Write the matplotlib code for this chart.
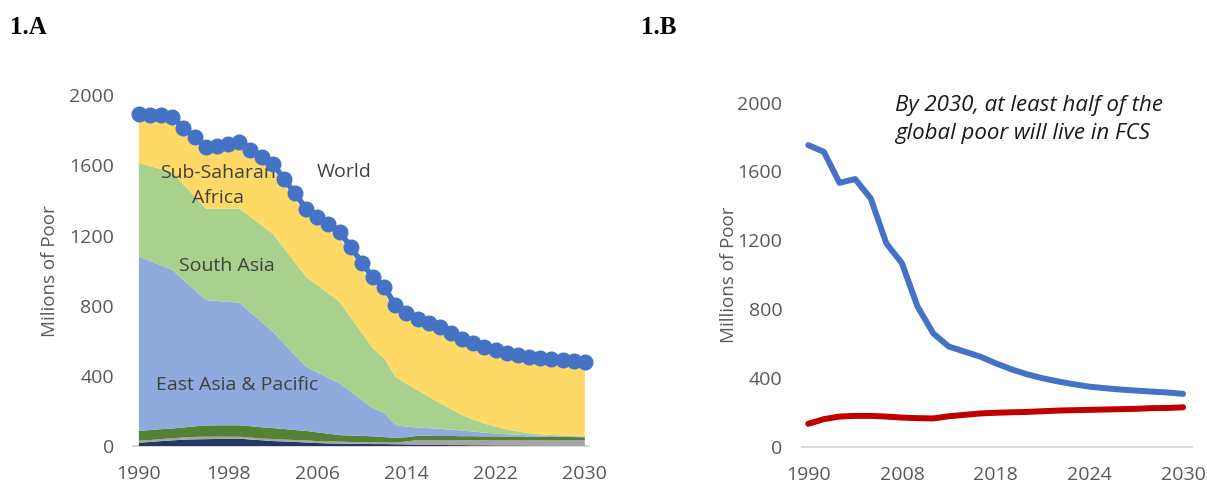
import matplotlib
matplotlib.use("Agg")
import matplotlib.pyplot as plt
import numpy as np

# ---------------- Panel 1.A data (millions of poor) ----------------
years_a = list(range(1990, 2031))
navy = [19, 23, 28, 32, 36, 38, 39, 40, 41, 42, 37, 33, 28, 26, 23, 20, 17, 15, 14, 13,
        12, 11, 11, 10, 9, 8, 7, 6, 5, 5, 4, 4, 3, 3, 3, 2, 2, 2, 2, 2, 2]
gray = [11, 11, 12, 12, 13, 14, 14, 13, 12, 11, 11, 10, 12, 11, 11, 12, 11, 11, 11, 10,
        10, 10, 9, 9, 17, 26, 27, 28, 29, 29, 30, 30, 31, 31, 31, 32, 32, 32, 32, 32, 32]
dark_green = [57, 57, 56, 56, 57, 60, 64, 65, 65, 65, 65, 64, 62, 60, 57, 54, 50, 44, 37, 37,
              36, 34, 31, 28, 24, 24, 24, 23, 23, 22, 22, 21, 21, 20, 20, 19, 19, 18, 18, 17, 16]
east_asia = [992, 964, 934, 905, 841, 778, 715, 709, 704, 699, 649, 600, 550, 488, 427, 366,
             342, 318, 295, 250, 204, 160, 139, 73, 60, 47, 44, 41, 36, 32, 26, 21, 16, 13,
             10, 8, 6, 5, 4, 4, 4]
south_asia = [535, 541, 548, 555, 544, 533, 522, 527, 532, 537, 545, 552, 560, 545, 529, 513,
              497, 482, 465, 423, 383, 341, 310, 275, 245, 213, 179, 147, 117, 89, 68, 52,
              39, 28, 19, 12, 8, 6, 4, 3, 3]
ssa = [246, 259, 273, 282, 290, 305, 317, 320, 332, 345, 345, 355, 364, 360, 358, 354, 355,
       360, 364, 368, 365, 370, 373, 373, 366, 374, 387, 400, 401, 401, 400, 403, 402, 402,
       401, 401, 398, 396, 395, 391, 385]
world = [1895, 1890, 1886, 1877, 1816, 1763, 1706, 1709, 1721, 1734, 1687, 1649, 1611, 1525,
         1440, 1354, 1307, 1265, 1221, 1136, 1045, 961, 908, 803, 756, 727, 703, 680, 646,
         613, 585, 566, 547, 532, 519, 509, 500, 494, 490, 484, 477]
ticks_a = [1990, 1998, 2006, 2014, 2022, 2030]

# ---------------- Panel 1.B data ----------------
cats_b = [1990, 1993, 1996, 1999, 2002, 2005, 2008, 2010, 2011, 2012, 2013, 2015, 2018,
          2019, 2020, 2021, 2022, 2023, 2024, 2025, 2026, 2027, 2028, 2029, 2030]
blue_b = [1752, 1713, 1533, 1555, 1442, 1181, 1065, 813, 658, 581, 552, 523, 484, 449, 420,
          397, 378, 362, 348, 339, 331, 325, 319, 314, 306]
red_b = [132, 159, 174, 178, 178, 174, 168, 165, 163, 176, 184, 192, 196, 199, 201, 205,
         209, 211, 213, 215, 217, 219, 223, 224, 228]
label_years_b = [1990, 2008, 2018, 2024, 2030]
yticks = [0, 400, 800, 1200, 1600, 2000]

FONT = ["Open Sans", "DejaVu Sans"]
plt.rcParams["font.family"] = FONT
TXT = "#595959"

fig = plt.figure(figsize=(12.07, 4.84), dpi=100)

def style_axis(ax):
    for s in ["top", "right", "left"]:
        ax.spines[s].set_visible(False)
    ax.spines["bottom"].set_color("#D9D9D9")
    ax.spines["bottom"].set_linewidth(1.5)
    ax.spines["bottom"].set_zorder(0.5)
    ax.tick_params(axis="both", length=0, labelsize=14, labelcolor=TXT)
    ax.tick_params(axis="y", pad=14)
    ax.tick_params(axis="x", pad=14)
    ax.set_ylim(0, 2000)
    ax.set_yticks(yticks)

# ---------------- Panel A ----------------
axA = fig.add_axes([133.3 / 1207, 1 - 446 / 484, 456 / 1207, 350.7 / 484])
colors = ["#203864", "#A5A5A5", "#548235", "#8FAADC", "#A9D18E", "#FFD966"]
axA.stackplot(years_a, navy, gray, dark_green, east_asia, south_asia, ssa,
              colors=colors, linewidth=0)
axA.plot(years_a, world, color="#4472C4", lw=4, marker="o", ms=10.5,
         clip_on=False, zorder=5)
axA.set_xlim(1989.5, 2030.4)
axA.set_xticks(ticks_a)
style_axis(axA)
axA.set_ylabel("Milions of Poor", fontsize=13.5, color=TXT)
axA.yaxis.set_label_coords(-0.163, 0.5)

lab_c = "#404040"
axA.text(1997.1, 1485, "Sub-Saharan\nAfrica", ha="center", va="center", fontsize=14,
         color=lab_c, linespacing=1.45)
axA.text(2008.4, 1562, "World", ha="center", va="center", fontsize=14, color=lab_c)
axA.text(1997.9, 1026, "South Asia", ha="center", va="center", fontsize=14, color=lab_c)
axA.text(1998.8, 348, "East Asia & Pacific", ha="center", va="center", fontsize=14,
         color=lab_c)

# ---------------- Panel B ----------------
axB = fig.add_axes([801.7 / 1207, 1 - 446.5 / 484, 390 / 1207, 344 / 484])
xb = np.arange(len(cats_b))
axB.plot(xb, blue_b, color="#4472C4", lw=4.3, solid_capstyle="round",
         solid_joinstyle="round")
axB.plot(xb, red_b, color="#C00000", lw=4.3, solid_capstyle="round",
         solid_joinstyle="round")
axB.set_xlim(-0.42, 24.55)
tick_idx = [cats_b.index(y) for y in label_years_b]
axB.set_xticks(tick_idx)
axB.set_xticklabels([str(y) for y in label_years_b])
style_axis(axB)
axB.set_ylabel("Millions of Poor", fontsize=13.5, color=TXT)
axB.yaxis.set_label_coords(-0.163, 0.5)
axB.text(5.55, 1901, "By 2030, at least half of the\nglobal poor will live in FCS",
         ha="left", va="center", fontsize=16, style="italic", color="#1A1A1A",
         linespacing=1.45)

# ---------------- Panel titles ----------------
fig.text(10 / 1207, 1 - 27 / 484, "1.A", fontsize=18, fontweight="bold",
         family=["Liberation Serif", "DejaVu Serif"], va="center", ha="left")
fig.text(641 / 1207, 1 - 27 / 484, "1.B", fontsize=18, fontweight="bold",
         family=["Liberation Serif", "DejaVu Serif"], va="center", ha="left")

fig.savefig("out.png", dpi=100)
